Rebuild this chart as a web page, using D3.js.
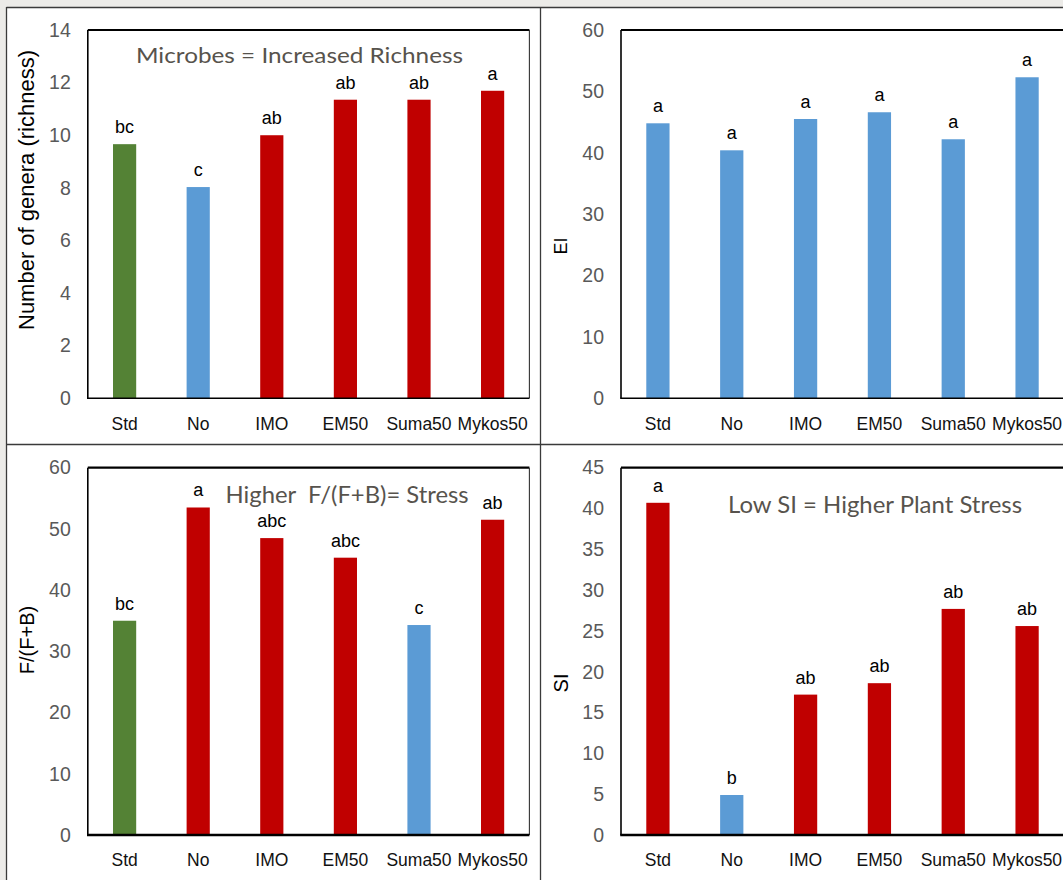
<!DOCTYPE html>
<html>
<head>
<meta charset="utf-8">
<script src="https://cdn.jsdelivr.net/npm/d3@7"></script>
<style>
  html, body { margin: 0; padding: 0; background: #ecebe8; }
  svg { display: block; }
  .tick text { font-family: "Liberation Sans", Arial, sans-serif; }
</style>
</head>
<body>
<svg id="chart" width="1063" height="880"></svg>
<script>
// Treatments shared by all four panels
const categories = ["Std", "No", "IMO", "EM50", "Suma50", "Mykos50"];

// Number of genera (richness)
const richnessValues = [9.66, 8.03, 10.0, 11.35, 11.35, 11.69];
const richnessLetters = ["bc", "c", "ab", "ab", "ab", "a"];
const richnessGroups = ["std", "base", "hi", "hi", "hi", "hi"];
const richnessTicks = [0, 2, 4, 6, 8, 10, 12, 14];

// Enrichment index (EI)
const eiValues = [44.8, 40.4, 45.5, 46.6, 42.2, 52.3];
const eiLetters = ["a", "a", "a", "a", "a", "a"];
const eiGroups = ["base", "base", "base", "base", "base", "base"];
const eiTicks = [0, 10, 20, 30, 40, 50, 60];

// Fungal share F/(F+B)
const fbValues = [35.0, 53.5, 48.5, 45.3, 34.3, 51.5];
const fbLetters = ["bc", "a", "abc", "abc", "c", "ab"];
const fbGroups = ["std", "hi", "hi", "hi", "base", "hi"];
const fbTicks = [0, 10, 20, 30, 40, 50, 60];

// Structure index (SI)
const siValues = [40.7, 4.9, 17.2, 18.6, 27.7, 25.6];
const siLetters = ["a", "b", "ab", "ab", "ab", "ab"];
const siGroups = ["hi", "base", "hi", "hi", "hi", "hi"];
const siTicks = [0, 5, 10, 15, 20, 25, 30, 35, 40, 45];

const groupColor = { std: "#548235", base: "#5b9bd5", hi: "#c00000" };

const svg = d3.select("#chart");
const AXIS_FONT = "'Liberation Sans', Arial, sans-serif";
const TITLE_FONT = "Lato, 'Open Sans', sans-serif";

// White panel sheet with its dividing lines
svg.append("rect").attr("x", 6).attr("y", 7).attr("width", 1063 - 6).attr("height", 880 - 7).attr("fill", "#ffffff");
const frame = svg.append("g").attr("stroke", "#3a3a3a").attr("stroke-width", 1.3).attr("fill", "none");
frame.append("line").attr("x1", 6.5).attr("x2", 1063).attr("y1", 7.5).attr("y2", 7.5);
frame.append("line").attr("x1", 6.5).attr("x2", 6.5).attr("y1", 7).attr("y2", 880);
frame.append("line").attr("x1", 540.5).attr("x2", 540.5).attr("y1", 7).attr("y2", 880);
frame.append("line").attr("x1", 6).attr("x2", 1063).attr("y1", 444.5).attr("y2", 444.5);

function drawPanel(cfg) {
  const { values, letters, groups, ticks, box } = cfg;
  const x = d3.scaleBand()
    .domain(categories)
    .range([box.left, box.right])
    .paddingInner(0.685)
    .paddingOuter(0.3425);
  const y = d3.scaleLinear()
    .domain([0, ticks[ticks.length - 1]])
    .range([box.bottom, box.top]);

  const g = svg.append("g");

  // Bars
  g.append("g").selectAll("rect")
    .data(categories)
    .join("rect")
    .attr("x", d => x(d))
    .attr("width", x.bandwidth())
    .attr("y", (d, i) => y(values[i]))
    .attr("height", (d, i) => y(0) - y(values[i]))
    .attr("fill", (d, i) => groupColor[groups[i]]);

  // Significance letters above bars
  g.append("g").selectAll("text")
    .data(categories)
    .join("text")
    .attr("x", d => x(d) + x.bandwidth() / 2)
    .attr("y", (d, i) => y(values[i]) - 11)
    .attr("text-anchor", "middle")
    .attr("font-family", AXIS_FONT)
    .attr("font-size", 18)
    .attr("fill", "#000")
    .text((d, i) => letters[i]);

  // Y axis labels
  const yAxis = g.append("g")
    .attr("transform", `translate(${box.left},0)`)
    .call(d3.axisLeft(y).tickValues(ticks).tickSize(0).tickPadding(17));
  yAxis.select(".domain").remove();
  yAxis.selectAll("text")
    .attr("font-family", AXIS_FONT)
    .attr("font-size", 19.5)
    .attr("fill", "#595959");

  // X axis labels
  const xAxis = g.append("g")
    .attr("transform", `translate(0,${box.bottom})`)
    .call(d3.axisBottom(x).tickSize(0).tickPadding(19));
  xAxis.select(".domain").remove();
  xAxis.selectAll("text")
    .attr("font-family", AXIS_FONT)
    .attr("font-size", 17.5)
    .attr("fill", "#111");

  // Plot-area border
  const border = g.append("g").attr("stroke", "#000").attr("fill", "none");
  border.append("line").attr("x1", box.left).attr("x2", box.right).attr("y1", box.top).attr("y2", box.top).attr("stroke-width", 2.2);
  border.append("line").attr("x1", box.left).attr("x2", box.left).attr("y1", box.top).attr("y2", box.bottom).attr("stroke-width", 1.6);
  border.append("line").attr("x1", box.right).attr("x2", box.right).attr("y1", box.top).attr("y2", box.bottom).attr("stroke-width", 1.1).attr("stroke", "#333");
  border.append("line").attr("x1", box.left - 0.8).attr("x2", box.right).attr("y1", box.bottom).attr("y2", box.bottom).attr("stroke-width", cfg.baseWidth);

  // Y axis title
  g.append("text")
    .attr("transform", `translate(${cfg.yTitle.x},${cfg.yTitle.y}) rotate(-90)`)
    .attr("text-anchor", "middle")
    .attr("font-family", AXIS_FONT)
    .attr("font-size", cfg.yTitle.size)
    .attr("fill", "#000")
    .text(cfg.yTitle.text);

  // Panel annotation
  if (cfg.note) {
    g.append("text")
      .attr("x", cfg.note.x)
      .attr("y", cfg.note.y)
      .attr("font-family", TITLE_FONT)
      .attr("font-size", cfg.note.size)
      .attr("fill", "#57534d")
      .attr("textLength", cfg.note.len)
      .attr("lengthAdjust", "spacingAndGlyphs")
      .style("white-space", "pre")
      .text(cfg.note.text);
  }
}

drawPanel({
  values: richnessValues, letters: richnessLetters, groups: richnessGroups, ticks: richnessTicks,
  box: { left: 87.8, right: 529.4, top: 30, bottom: 398.3 }, baseWidth: 1.6,
  yTitle: { text: "Number of genera (richness)", x: 34, y: 190, size: 22 },
  note: { text: "Microbes = Increased Richness", x: 136, y: 63, size: 22, len: 327 }
});

drawPanel({
  values: eiValues, letters: eiLetters, groups: eiGroups, ticks: eiTicks,
  box: { left: 621, right: 1064, top: 30, bottom: 398.3 }, baseWidth: 1.6,
  yTitle: { text: "EI", x: 567, y: 246, size: 18 }
});

drawPanel({
  values: fbValues, letters: fbLetters, groups: fbGroups, ticks: fbTicks,
  box: { left: 87.8, right: 529.4, top: 467.7, bottom: 835 }, baseWidth: 2.6,
  yTitle: { text: "F/(F+B)", x: 34, y: 640, size: 20 },
  note: { text: "Higher  F/(F+B)= Stress", x: 225.6, y: 503, size: 23, len: 243 }
});

drawPanel({
  values: siValues, letters: siLetters, groups: siGroups, ticks: siTicks,
  box: { left: 621, right: 1064, top: 467.7, bottom: 835 }, baseWidth: 2.6,
  yTitle: { text: "SI", x: 568, y: 683, size: 20 },
  note: { text: "Low SI = Higher Plant Stress", x: 728, y: 513, size: 24, len: 294 }
});
</script>
</body>
</html>
